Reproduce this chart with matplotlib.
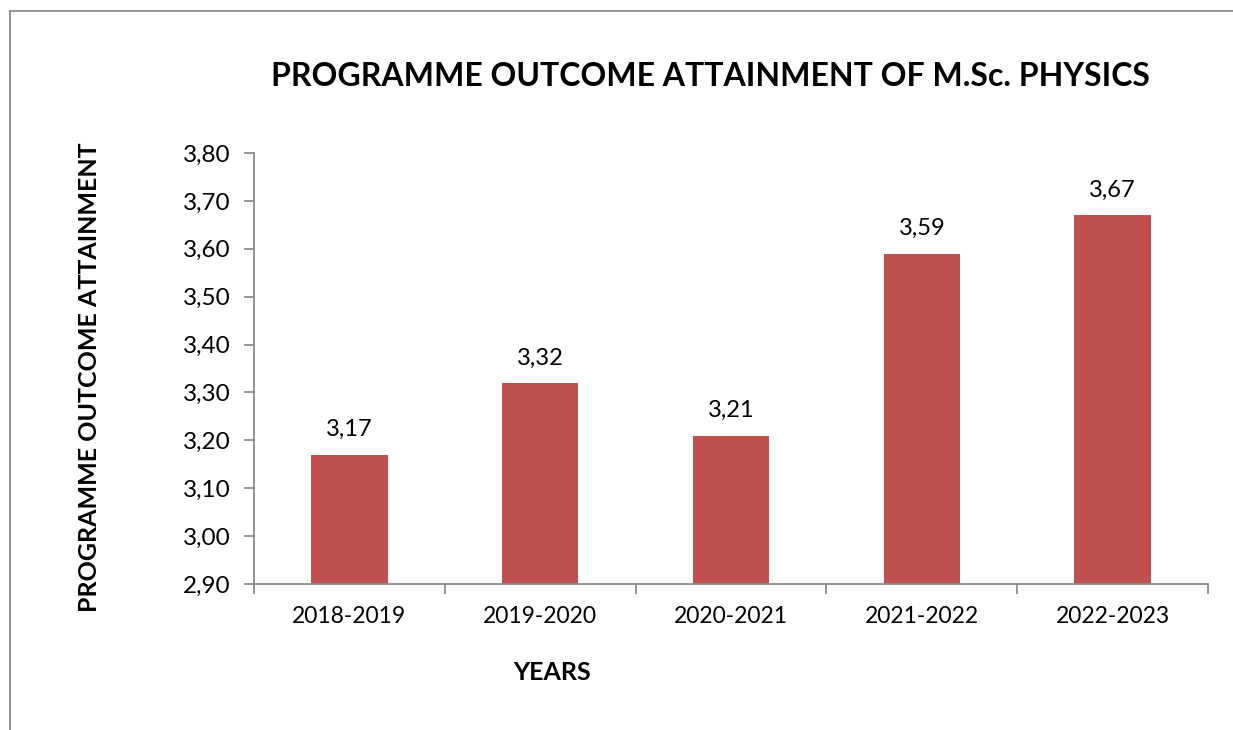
import matplotlib.pyplot as plt
from matplotlib.lines import Line2D

years = ['2018-2019', '2019-2020', '2020-2021', '2021-2022', '2022-2023']
attainment = [3.17, 3.32, 3.21, 3.59, 3.67]
yticks = [2.90, 3.00, 3.10, 3.20, 3.30, 3.40, 3.50, 3.60, 3.70, 3.80]

plt.rcParams['font.family'] = ['Lato', 'DejaVu Sans']

W, H = 1233, 730
fig = plt.figure(figsize=(W / 100, H / 100), dpi=100)
ax = fig.add_axes([254 / W, 1 - 584 / H, (1208 - 254) / W, (584 - 153) / H])

# chart area frame (top and left visible)
fig.add_artist(Line2D([10 / W, 10 / W], [0, 1 - 11 / H], color='#8c8c8c', lw=1.3))
fig.add_artist(Line2D([10 / W, 1], [1 - 11 / H, 1 - 11 / H], color='#8c8c8c', lw=1.3))

x = range(len(years))
bars = ax.bar(x, attainment, width=0.4, color='#C0504D', zorder=2)
for xi, v in zip(x, attainment):
    ax.text(xi, v + 0.03, f'{v:.2f}'.replace('.', ','), ha='center', va='bottom', fontsize=17)

ax.set_xlim(-0.5, len(years) - 0.5)
ax.set_ylim(2.90, 3.80)
ax.set_yticks(yticks)
ax.set_yticklabels([f'{t:.2f}'.replace('.', ',') for t in yticks], fontsize=17.5)
ax.set_xticks(x)
ax.set_xticklabels(years, fontsize=16.5)
ax.set_xticks([i - 0.5 for i in range(len(years) + 1)], minor=True)
ax.tick_params(axis='x', which='major', length=0, pad=16)
ax.tick_params(axis='x', which='minor', length=7, color='#8c8c8c', width=1.3)
ax.tick_params(axis='y', length=7, color='#8c8c8c', width=1.3, pad=10)

for s in ['top', 'right']:
    ax.spines[s].set_visible(False)
for s in ['left', 'bottom']:
    ax.spines[s].set_color('#8c8c8c')
    ax.spines[s].set_linewidth(1.3)

fig.text(710 / W, 1 - 76 / H, 'PROGRAMME OUTCOME ATTAINMENT OF M.Sc. PHYSICS',
         ha='center', va='center', fontsize=23, fontweight='bold')
fig.text(552 / W, 1 - 672 / H, 'YEARS', ha='center', va='center', fontsize=18, fontweight='bold')
fig.text(90 / W, 1 - 377 / H, 'PROGRAMME OUTCOME ATTAINMENT', ha='center', va='center',
         rotation=90, fontsize=18, fontweight='bold')

fig.savefig('out.png', dpi=100)
